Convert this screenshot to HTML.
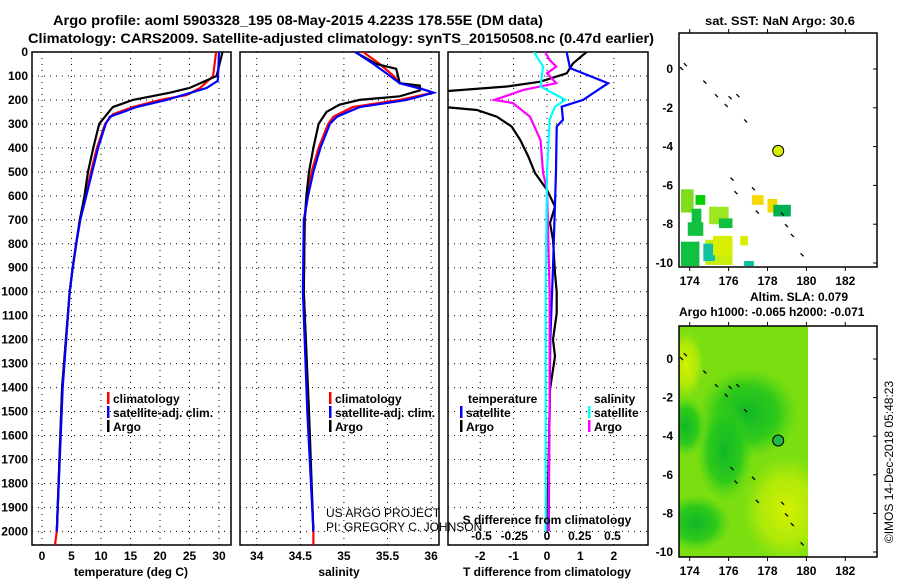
<!DOCTYPE html>
<html><head><meta charset="utf-8"><style>
body{margin:0;background:#fff;}
svg text{font-family:"Liberation Sans",sans-serif;}
.b{font-weight:bold;font-size:12px;}
</style></head><body>
<svg id="s" width="900" height="580" xmlns="http://www.w3.org/2000/svg">
<defs>
<radialGradient id="gDark" cx="50%" cy="50%" r="50%"><stop offset="0" stop-color="#10b828"/><stop offset="0.6" stop-color="#22c61c" stop-opacity="0.85"/><stop offset="1" stop-color="#44d21a" stop-opacity="0"/></radialGradient>
<radialGradient id="gYel" cx="50%" cy="50%" r="50%"><stop offset="0" stop-color="#d4f000"/><stop offset="0.6" stop-color="#bcec08" stop-opacity="0.8"/><stop offset="1" stop-color="#a8e810" stop-opacity="0"/></radialGradient>
<clipPath id="cp1"><rect x="32" y="52" width="199" height="493"/></clipPath>
<clipPath id="cp2"><rect x="240" y="52" width="199" height="493"/></clipPath>
<clipPath id="cp3"><rect x="448" y="52" width="200" height="493"/></clipPath>
<clipPath id="cm2"><rect x="679" y="326" width="129" height="231"/></clipPath>
</defs>
<text x="298" y="25" text-anchor="middle" font-weight="bold" font-size="14" textLength="490" lengthAdjust="spacingAndGlyphs">Argo profile: aoml 5903328_195 08-May-2015 4.223S 178.55E (DM data)</text>
<text x="341" y="43" text-anchor="middle" font-weight="bold" font-size="14" textLength="626" lengthAdjust="spacingAndGlyphs">Climatology: CARS2009. Satellite-adjusted climatology: synTS_20150508.nc (0.47d earlier)</text>
<text x="780" y="25" text-anchor="middle" font-weight="bold" font-size="12" textLength="150" lengthAdjust="spacingAndGlyphs">sat. SST: NaN Argo: 30.6</text>
<g id="g"></g>
<text x="326" y="517" font-size="12">US ARGO PROJECT</text>
<text x="326" y="531" font-size="12">PI: GREGORY C. JOHNSON</text>
<text x="893" y="462" font-size="12" text-anchor="middle" transform="rotate(-90 893 462)">©IMOS 14-Dec-2018 05:48:23</text>
</svg>
<script>
const depthTicks=[0,100,200,300,400,500,600,700,800,900,1000,1100,1200,1300,1400,1500,1600,1700,1800,1900,2000];
const tempTicks=[0,5,10,15,20,25,30];
const salTicks=[34,34.5,35,35.5,36];
const salTickLabels=["34","34.5","35","35.5","36"];
const tdiffTicks=[-2,-1,0,1,2];
const sdiffTicks=[-0.5,-0.25,0,0.25,0.5];
const sdiffTickLabels=["-0.5","-0.25","0","0.25","0.5"];
const tArgoDepth=[0,100,150,170,200,230,260,300,400,500,600,700,800,900,1000,1400,2000];
const tArgoVal=[30.6,29.6,25,21.7,15.4,12,11,9.7,8.7,7.8,7.2,6.4,5.8,5.2,4.7,3.4,2.5];
const tClimDepth=[0,100,150,180,200,230,260,300,400,500,600,700,800,900,1000,1400,2000,2056];
const tClimVal=[29.5,29,26.8,24.5,20,15.4,12,10.7,9.3,8.3,7.4,6.4,5.8,5.2,4.7,3.4,2.5,2.2];
const tSatDepth=[0,120,150,200,230,270,300,400,500,600,700,800,900,1000,1400,2000];
const tSatVal=[30,29.8,27.9,21.1,16,11.5,10.8,9.5,8.5,7.5,6.5,5.8,5.2,4.7,3.5,2.5];
const sArgoDepth=[0,50,70,100,130,140,160,185,200,220,250,300,400,500,600,700,1000,1500,2000];
const sArgoVal=[35.13,35.37,35.6,35.62,35.64,35.87,35.87,35.64,35.18,34.95,34.8,34.71,34.65,34.6,34.57,34.55,34.54,34.6,34.65];
const sClimDepth=[0,50,100,130,150,170,200,230,270,300,400,500,600,700,1000,1500,2000,2056];
const sClimVal=[35.22,35.41,35.57,35.64,35.87,36.02,35.64,35.1,34.88,34.82,34.71,34.63,34.58,34.55,34.54,34.59,34.65,34.65];
const sSatDepth=[0,50,100,130,160,170,200,230,270,300,400,500,600,700,1000,1500,2000];
const sSatVal=[35.13,35.34,35.53,35.64,35.95,36.03,35.72,35.18,34.92,34.84,34.73,34.65,34.59,34.54,34.53,34.58,34.65];
const dtArgoDepth=[0,12,47,89,124,144,165,200,228,242,270,311,367,436,505,575,645,714,783,922,1000,1090,1200,1270,1408,1700,2000];
const dtArgoVal=[1.19,1.08,0.78,0.59,-0.2,-1.2,-3.2,-3.2,-3.2,-2.1,-1.5,-1.06,-0.8,-0.56,-0.36,0,0.24,0.09,0.18,0.24,0.29,0.29,0.18,0.24,0.09,0.05,0];
const dtSatDepth=[0,67,130,200,228,283,311,500,900,1200,1600,2000];
const dtSatVal=[0.59,0.69,1.83,1.08,0.44,0.48,0.29,0.27,0.18,0.1,0.07,0.05];
const dsArgoDepth=[0,33,61,89,130,158,200,213,270,367,505,575,1000,1500,2000];
const dsArgoVal=[-0.015,0.02,0.07,0,0.07,-0.18,-0.4,-0.26,-0.13,-0.05,-0.03,0,0.02,0.02,0.01];
const dsSatDepth=[0,61,144,200,228,283,500,1000,1500,2000];
const dsSatVal=[-0.1,-0.03,-0.05,0.14,0.06,0.02,0,-0.01,-0.01,-0.01];
const mapLatTicks=[0,-2,-4,-6,-8,-10];
const mapLonTicks=[174,176,178,180,182];
const argoLon=178.55, argoLat=-4.223;
const sstPatchLon0=[173.55,174.3,174.1,177.2,178.0,178.3,173.9,175.0,174.8,173.55,174.7,176.8,175.5,175.2,176.6];
const sstPatchLat0=[-6.2,-6.5,-7.2,-6.5,-6.7,-7.0,-7.9,-7.1,-8.8,-8.9,-9.0,-9.9,-7.7,-8.6,-8.6];
const sstPatchLon1=[174.2,174.8,174.6,177.8,178.5,179.2,174.7,176.0,176.2,174.5,175.3,177.3,176.2,176.2,177.0];
const sstPatchLat1=[-7.4,-7.0,-8.2,-7.0,-7.4,-7.6,-8.6,-8.0,-10.1,-10.2,-9.9,-10.3,-8.2,-9.6,-9.1];
const sstPatchColor=["#80dc20","#00d000","#10c040","#f5d800","#f5d800","#00b050","#10c040","#9ee620","#c8ee10","#10c040","#10c0a0","#00c0a0","#10c040","#d8f000","#d8f000"];

const NS="http://www.w3.org/2000/svg";
const G=document.getElementById('g');
function mk(t,a,p){const e=document.createElementNS(NS,t);for(const k in a)e.setAttribute(k,a[k]);(p||G).appendChild(e);return e;}
const yD=d=>52+d*0.2397;
const xT=t=>42+t*5.9;
const xS=s=>256.7+(s-34)*87.2;
const xDT=v=>547+v*33.4;
const xDS=v=>547+v*131;
const mx=lon=>689.7+(lon-174)*19.45;
const my1=lat=>69-lat*19.4;
const my2=lat=>359-lat*19.3;

function panel(x0,w,xs,ticks,labels,name){
  const pg=mk('g',{});
  
  
  depthTicks.forEach(d=>{const l=mk('line',{x1:x0,x2:x0+w,y1:yD(d),y2:yD(d),stroke:'#000','stroke-width':1,'stroke-dasharray':'1,5'},pg);
    
    });
  ticks.forEach((t,i)=>{const x=xs(t);const l=mk('line',{x1:x,x2:x,y1:52,y2:545,stroke:'#000','stroke-width':1,'stroke-dasharray':'1,5'},pg);
    
    
    const tx=mk('text',{x:x,y:560,'text-anchor':'middle',class:'b'},pg);tx.textContent=labels[i];
    
    });
  const r=mk('rect',{x:x0,y:52,width:w,height:493,fill:'none',stroke:'#000','stroke-width':1.5},pg);
  
  
}
function line(ds,vs,xs,col,clip,name,wd){
  const p=mk('polyline',{points:ds.map((d,i)=>xs(vs[i]).toFixed(1)+','+yD(d).toFixed(1)).join(' '),fill:'none',stroke:col,'stroke-width':wd||2.2,'clip-path':'url(#'+clip+')'});
  
  
}
panel(32,199,xT,tempTicks,tempTicks.map(String),'temperature-panel');
panel(240,199,xS,salTicks,salTickLabels,'salinity-panel');
panel(448,200,xDT,tdiffTicks,tdiffTicks.map(String),'difference-panel');
sdiffTicks.forEach((v,i)=>{const t=mk('text',{x:xDS(v),y:540,'text-anchor':'middle',class:'b'});t.textContent=sdiffTickLabels[i];
  
  });
depthTicks.forEach(d=>{const t=mk('text',{x:28,y:yD(d)+4,'text-anchor':'end',class:'b'});t.textContent=d;
  
  });

line(tClimDepth,tClimVal,xT,'#f00','cp1','temp-climatology-line');
line(tArgoDepth,tArgoVal,xT,'#000','cp1','temp-argo-line');
line(tSatDepth,tSatVal,xT,'#00f','cp1','temp-satellite-line');
line(sClimDepth,sClimVal,xS,'#f00','cp2','sal-climatology-line');
line(sArgoDepth,sArgoVal,xS,'#000','cp2','sal-argo-line');
line(sSatDepth,sSatVal,xS,'#00f','cp2','sal-satellite-line');
line(dtArgoDepth,dtArgoVal,xDT,'#000','cp3','tdiff-argo-line');
line(dtSatDepth,dtSatVal,xDT,'#00f','cp3','tdiff-satellite-line');
line(dsArgoDepth,dsArgoVal,xDS,'#f0f','cp3','sdiff-argo-line');
line(dsSatDepth,dsSatVal,xDS,'#0ff','cp3','sdiff-satellite-line');

function txt(x,y,s,name,cls,extra){const t=mk('text',Object.assign({x:x,y:y,class:cls||'b'},extra||{}));t.textContent=s;
  
  return t;}
function leg(x,y,col,s,name){const r=mk('rect',{x:x,y:y-11,width:2.5,height:12,fill:col});
  
  
  txt(x+6,y,s,name);}
leg(107,403,'#f00','climatology','legend-climatology');
leg(107,417,'#00f','satellite-adj. clim.','legend-satellite');
leg(107,431,'#000','Argo','legend-argo');
leg(329,403,'#f00','climatology','legend2-climatology');
leg(329,417,'#00f','satellite-adj. clim.','legend2-satellite');
leg(329,431,'#000','Argo','legend2-argo');
txt(468,403,'temperature','legend-temperature-heading');
leg(460,417,'#00f','satellite','legend-t-satellite');
leg(460,431,'#000','Argo','legend-t-argo');
txt(594,403,'salinity','legend-salinity-heading');
leg(588,417,'#0ff','satellite','legend-s-satellite');
leg(588,431,'#f0f','Argo','legend-s-argo');
txt(547,524,'S difference from climatology','s-diff-axis-title','b',{'text-anchor':'middle'});
txt(131,576,'temperature (deg C)','temp-axis-title','b',{'text-anchor':'middle'});
txt(339,576,'salinity','salinity-axis-title','b',{'text-anchor':'middle'});
txt(547,576,'T difference from climatology','t-diff-axis-title','b',{'text-anchor':'middle'});

function mapFrame(y0,h,my,name,labY){
  const fg=mk('g',{});
  
  
  mapLatTicks.forEach(l=>{const y=my(l);mk('line',{x1:877,x2:873,y1:y,y2:y,stroke:'#000'},fg);
    const t=mk('text',{x:673,y:y+4,'text-anchor':'end',class:'b'},fg);t.textContent=l;
    
    });
  mapLonTicks.forEach(l=>{const x=mx(l);mk('line',{x1:x,x2:x,y1:y0,y2:y0-4,stroke:'#000'},fg);mk('line',{x1:x,x2:x,y1:y0+h,y2:y0+h+4,stroke:'#000'},fg);
    const t=mk('text',{x:x,y:labY,'text-anchor':'middle',class:'b'},fg);t.textContent=l;
    
    });
  const r=mk('rect',{x:679,y:y0,width:198,height:h,fill:'none',stroke:'#000','stroke-width':1.5},fg);
  
  
}
sstPatchLon0.forEach((l,i)=>{const x0=mx(l),x1=mx(sstPatchLon1[i]),y0=my1(sstPatchLat0[i]),y1=my1(sstPatchLat1[i]);
  const r=mk('rect',{x:Math.max(680,x0),y:y0,width:x1-Math.max(680,x0),height:Math.min(y1,266)-y0,fill:sstPatchColor[i]});
  
  });
const bg=mk('g',{'clip-path':'url(#cm2)'});


mk('rect',{x:679,y:326,width:129,height:231,fill:'#7ade10'},bg);
mk('ellipse',{cx:mx(177),cy:my2(-2.8),rx:50,ry:45,fill:'url(#gDark)'},bg);
mk('ellipse',{cx:mx(175.8),cy:my2(-4.8),rx:28,ry:50,fill:'url(#gDark)'},bg);
mk('ellipse',{cx:mx(174.3),cy:my2(-8.5),rx:35,ry:28,fill:'url(#gDark)'},bg);
mk('ellipse',{cx:mx(173.8),cy:my2(-3.5),rx:20,ry:30,fill:'url(#gDark)'},bg);
mk('ellipse',{cx:mx(179),cy:my2(-7.8),rx:45,ry:55,fill:'url(#gYel)'},bg);
mk('ellipse',{cx:mx(173.8),cy:my2(-0.3),rx:18,ry:35,fill:'url(#gYel)'},bg);
mapFrame(33,234,my1,'sst-map',285);
mapFrame(326,231,my2,'sla-map',575);
const coastLon=[173.5,173.7,174.7,175.3,175.8,176,176.4,176.8,176.1,176.3,177.2,177.4,178.7,178.9,179.2,179.7];
const coastLat=[0.1,0.3,-0.6,-1.3,-1.8,-1.4,-1.3,-2.6,-5.6,-6.3,-6.1,-7.3,-7.4,-8.0,-8.5,-9.5];
[my1,my2].forEach(my=>coastLon.forEach((l,i)=>{const p=mk('line',{x1:mx(l),y1:my(coastLat[i]),x2:mx(l)+3,y2:my(coastLat[i])+3,stroke:'#000','stroke-width':1.3});
  
  }));
const c1=mk('circle',{cx:mx(argoLon),cy:my1(argoLat),r:5.5,fill:'#d8f000',stroke:'#000'});


const c2=mk('circle',{cx:mx(argoLon),cy:my2(argoLat),r:5.5,fill:'#20b848',stroke:'#000'});


txt(750,301,'Altim. SLA: 0.079','sla-map-title');
txt(679,316,'Argo h1000: -0.065 h2000: -0.071','sla-map-subtitle');
</script>
</body></html>
